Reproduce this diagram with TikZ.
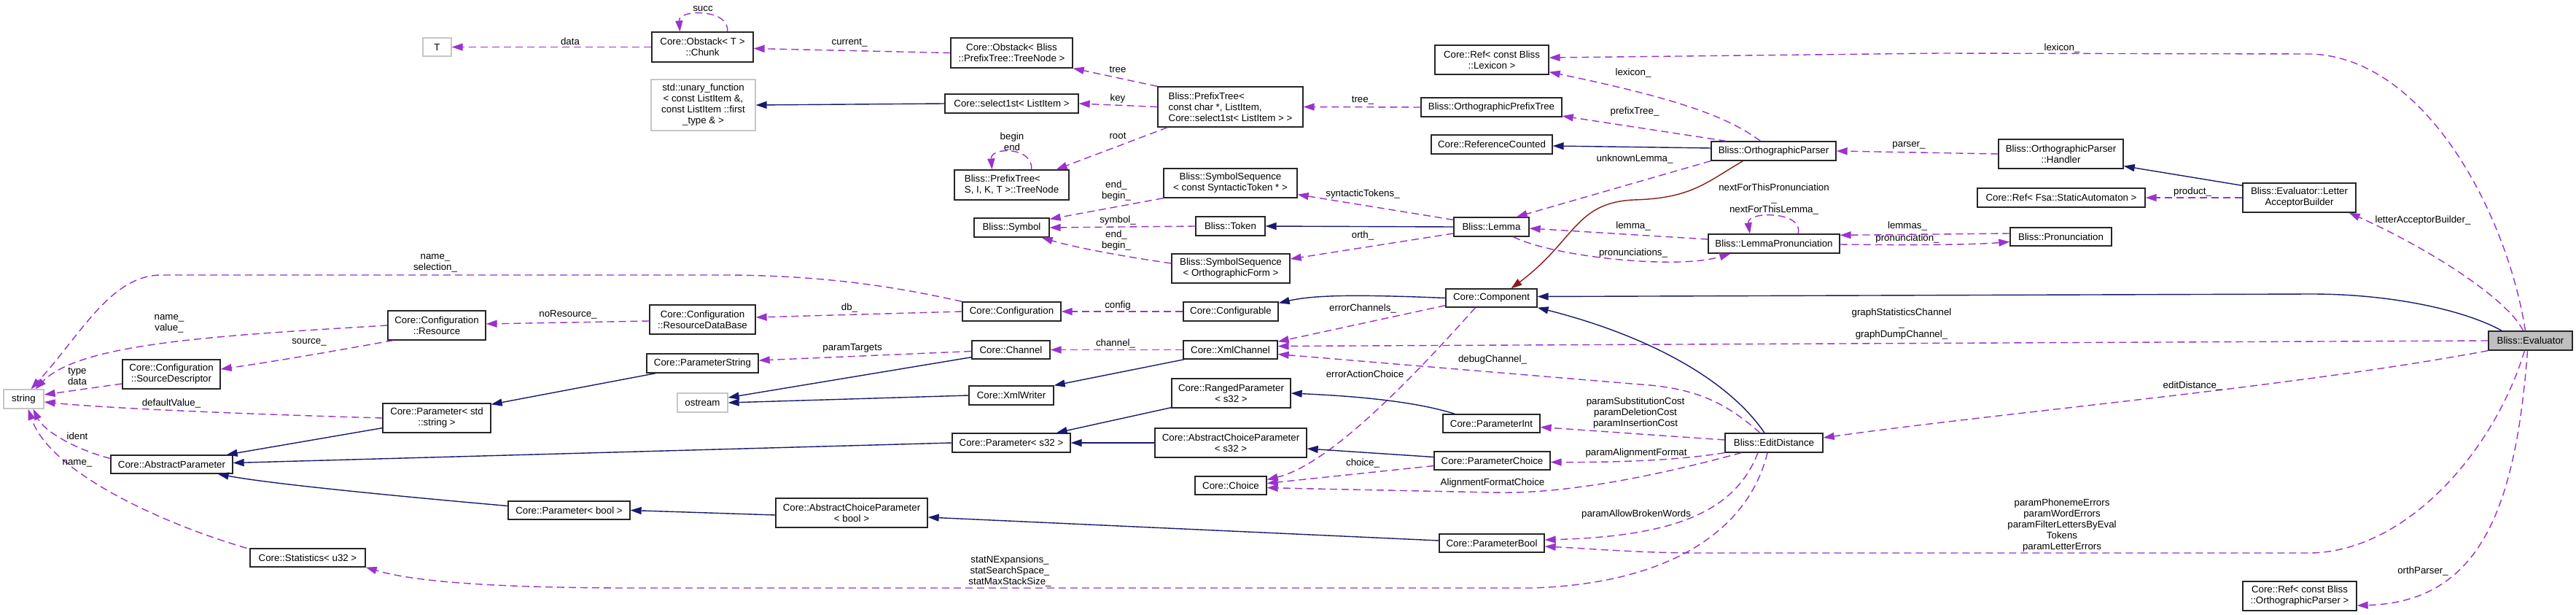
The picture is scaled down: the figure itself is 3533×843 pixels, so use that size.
\documentclass[tikz,border=0pt]{standalone}
\usepackage{fontspec}
\newfontfamily\dfam{Liberation Sans}
\newcommand{\dfont}{\dfam\fontsize{13.3}{15}\selectfont}
\usetikzlibrary{arrows.meta,calc}
\definecolor{dep}{HTML}{9A32CD}
\definecolor{inh}{HTML}{191970}
\definecolor{priv}{HTML}{8B1A1A}
\tikzset{
 cbox/.style={draw=black!85, line width=1.3pt, fill=white, inner sep=0pt, font=\dfont, align=center},
 extbox/.style={cbox, draw=gray!45},
 curbox/.style={cbox, fill=gray!50},
 lbox/.style={cbox, align=left},
 elab/.style={font=\dfont, align=center, inner sep=0pt},
 usedge/.style={draw=dep, line width=1.4pt, dash pattern=on 10pt off 6pt, -{Triangle[length=15pt,width=10pt]}},
 inhedge/.style={draw=inh, line width=1.4pt, -{Triangle[length=15pt,width=10pt]}},
 privedge/.style={draw=priv, line width=1.4pt, -{Triangle[length=15pt,width=10pt]}},
}
\newcommand{\bx}[7][cbox]{\node[#1,minimum width={(#5-#3)*1pt},minimum height={(#6-#4)*1pt}] (#2) at ({(#3+#5)/2},{(#4+#6)/2}) {#7};}
\begin{document}
\begin{tikzpicture}[x=1pt,y=-1pt]
\fill[white] (0,0) rectangle (3533,843);
\useasboundingbox (0,0) rectangle (3533,843);
% nodes
\bx[extbox]{T}{580}{52}{619}{77}{T}
\bx{chunk}{894}{44}{1033}{85}{Core::Obstack< T >\\::Chunk}
\bx{obtn}{1304}{52}{1471}{93}{Core::Obstack< Bliss\\::PrefixTree::TreeNode >}
\bx[extbox]{unary}{893}{109}{1036}{179}{std::unary\_function\\< const ListItem \&,\\const ListItem ::first\\\_type \& >}
\bx{sel}{1296}{129}{1479}{155}{Core::select1st< ListItem >}
\bx[lbox]{ptree}{1588}{119}{1787}{174}{Bliss::PrefixTree<\\ const char *, ListItem,\\ Core::select1st< ListItem > >}
\bx[lbox]{tnode}{1309}{233}{1466}{274}{Bliss::PrefixTree<\\ S, I, K, T >::TreeNode}
\bx{sst}{1596}{231}{1779}{271}{Bliss::SymbolSequence\\< const SyntacticToken * >}
\bx{sym}{1336}{299}{1439}{325}{Bliss::Symbol}
\bx{tok}{1640}{297}{1735}{323}{Bliss::Token}
\bx{sof}{1607}{348}{1769}{388}{Bliss::SymbolSequence\\< OrthographicForm >}
\bx{conf}{1320}{414}{1455}{440}{Core::Configuration}
\bx{cfgable}{1623}{414}{1753}{440}{Core::Configurable}
\bx{rdb}{891}{418}{1036}{458}{Core::Configuration\\::ResourceDataBase}
\bx{res}{532}{426}{666}{466}{Core::Configuration\\::Resource}
\bx{sd}{168}{493}{302}{533}{Core::Configuration\\::SourceDescriptor}
\bx[extbox]{string}{5}{534}{60}{560}{string}
\bx{pstr}{525}{553}{673}{593}{Core::Parameter< std\\::string >}
\bx{absp}{152}{624}{319}{649}{Core::AbstractParameter}
\bx{pbool}{697}{687}{864}{712}{Core::Parameter< bool >}
\bx{stats}{343}{752}{501}{777}{Core::Statistics< u32 >}
\bx{chan}{1333}{467}{1440}{492}{Core::Channel}
\bx{pstring}{887}{485}{1040}{511}{Core::ParameterString}
\bx{xmlc}{1623}{467}{1752}{492}{Core::XmlChannel}
\bx[extbox]{ostream}{929}{539}{998}{565}{ostream}
\bx{xmlw}{1329}{529}{1445}{555}{Core::XmlWriter}
\bx{rp}{1607}{519}{1770}{559}{Core::RangedParameter\\< s32 >}
\bx{ps32}{1306}{594}{1468}{620}{Core::Parameter< s32 >}
\bx{acps32}{1584}{587}{1792}{627}{Core::AbstractChoiceParameter\\< s32 >}
\bx{choice}{1639}{653}{1737}{678}{Core::Choice}
\bx{acpbool}{1064}{683}{1272}{723}{Core::AbstractChoiceParameter\\< bool >}
\bx{reflex}{1968}{62}{2124}{102}{Core::Ref< const Bliss\\::Lexicon >}
\bx{optree}{1949}{134}{2142}{160}{Bliss::OrthographicPrefixTree}
\bx{refc}{1963}{185}{2129}{211}{Core::ReferenceCounted}
\bx{oparser}{2347}{194}{2518}{220}{Bliss::OrthographicParser}
\bx{lemma}{1994}{298}{2097}{324}{Bliss::Lemma}
\bx{lp}{2343}{321}{2523}{347}{Bliss::LemmaPronunciation}
\bx{comp}{1983}{396}{2108}{421}{Core::Component}
\bx{pint}{1979}{568}{2112}{593}{Core::ParameterInt}
\bx{ed}{2366}{594}{2500}{620}{Bliss::EditDistance}
\bx{pchoice}{1967}{619}{2126}{644}{Core::ParameterChoice}
\bx{pboolp}{1974}{732}{2118}{757}{Core::ParameterBool}
\bx{handler}{2741}{191}{2912}{231}{Bliss::OrthographicParser\\::Handler}
\bx{refsa}{2712}{258}{2942}{284}{Core::Ref< Fsa::StaticAutomaton >}
\bx{lab}{3076}{251}{3231}{291}{Bliss::Evaluator::Letter\\AcceptorBuilder}
\bx{pron}{2757}{312}{2896}{337}{Bliss::Pronunciation}
\bx[curbox]{eval}{3413}{454}{3528}{480}{Bliss::Evaluator}
\bx{refop}{3076}{797}{3232}{837}{Core::Ref< const Bliss\\::OrthographicParser >}
% usage edges
\draw[usedge] (chunk.west) -- (T.east);
\draw[usedge] ($(chunk.north)+(34,0)$) .. controls (1002,12) and (930,12) .. ($(chunk.north)+(-31,0)$);
\draw[usedge] (obtn.west) -- ($(chunk.east)+(0,2)$);
\draw[usedge] (ptree.north west) -- (obtn.south east);
\draw[usedge] (ptree.west) -- (sel.east);
\draw[usedge] ($(ptree.south west)+(14,0)$) -- ($(tnode.north east)+(-18,0)$);
\draw[usedge] ($(tnode.north)+(27,0)$) .. controls (1418,201) and (1358,201) .. ($(tnode.north)+(-27,0)$);
\draw[usedge] (sst.south west) -- ($(sym.north east)+(0,2)$);
\draw[usedge] (tok.west) -- (sym.east);
\draw[usedge] ($(sof.west)+(0,-7)$) .. controls (1530,350) and (1470,338) .. ($(sym.south east)+(-11,0)$);
\draw[usedge] (cfgable.west) -- (conf.east);
\draw[usedge] (conf.west) -- ($(rdb.east)+(0,-3)$);
\draw[usedge] (conf.north west) .. controls (1250,398) and (1150,378) .. (1000,377) -- (218,377) .. controls (150,380) and (110,460) .. ($(string.north)+(10,0)$);
\draw[usedge] ($(rdb.west)+(0,2)$) -- ($(res.east)+(0,-2)$);
\draw[usedge] (res.west) .. controls (300,460) and (110,470) .. ($(string.north)+(16,0)$);
\draw[usedge] ($(res.south west)+(8,0)$) .. controls (480,477) and (400,492) .. ($(sd.east)+(0,-7)$);
\draw[usedge] ($(sd.west)+(0,13)$) -- ($(string.east)+(0,-6)$);
\draw[usedge] (pstr.west) .. controls (350,568) and (150,560) .. ($(string.east)+(0,4)$);
\draw[usedge] ($(absp.west)+(0,-8)$) .. controls (100,615) and (60,590) .. ($(string.south)+(13,0)$);
\draw[usedge] ($(stats.north west)+(-4,0)$) .. controls (230,720) and (70,650) .. ($(string.south)+(6,0)$);
\draw[usedge] ($(chan.west)+(0,2)$) -- ($(pstring.east)+(0,-4)$);
\draw[usedge] (xmlc.west) -- (chan.east);
\draw[usedge] ($(comp.south west)+(0,-3)$) -- ($(xmlc.north east)+(0,2)$);
\draw[usedge] (eval.west) -- ($(xmlc.east)+(0,-5)$);
\draw[usedge] ($(ed.north)+(-19,0)$) .. controls (2370,555) and (2330,532) .. (2250,527) -- ($(xmlc.east)+(0,6)$);
\draw[usedge] ($(comp.south)+(-22,0)$) .. controls (1900,560) and (1810,640) .. ($(choice.east)+(0,-8)$);
\draw[usedge] ($(pchoice.west)+(0,7)$) -- ($(choice.east)+(0,-3)$);
\draw[usedge] ($(ed.south west)+(23,0)$) .. controls (2280,650) and (2150,678) .. (2047,675) .. controls (1900,672) and (1800,670) .. ($(choice.east)+(0,3)$);
\draw[usedge] ($(ed.west)+(0,-4)$) -- ($(pint.east)+(0,5)$);
\draw[usedge] (ed.south west) .. controls (2320,628) and (2250,634) .. ($(pchoice.east)+(0,2)$);
\draw[usedge] ($(ed.south)+(-22,0)$) .. controls (2380,700) and (2300,735) .. ($(pboolp.east)+(0,-4.5)$);
\draw[usedge] ($(ed.south)+(-9,0)$) .. controls (2400,720) and (2300,800) .. (2100,806) -- (850,806) .. controls (650,805) and (560,795) .. (stats.south east);
\draw[usedge] ($(eval.south)+(-8,0)$) .. controls (3420,620) and (3300,755) .. (3170,758) -- (2330,758) .. controls (2250,758) and (2180,752) .. ($(pboolp.east)+(0,4.5)$);
\draw[usedge] (eval.south west) .. controls (3150,530) and (2750,565) .. ($(ed.east)+(0,-7)$);
\draw[usedge] ($(eval.south)+(-4,0)$) .. controls (3450,700) and (3400,825) .. ($(refop.east)+(0,13)$);
\draw[usedge] ($(eval.north)+(-7,0)$) .. controls (3440,300) and (3330,80) .. (3170,74) -- (2660,73) -- ($(reflex.east)+(0,-3)$);
\draw[usedge] ($(eval.north)+(-10,0)$) .. controls (3440,410) and (3330,340) .. ($(lab.south east)+(-10,0)$);
\draw[usedge] ($(oparser.north)+(-18,0)$) .. controls (2370,160) and (2300,135) .. ($(reflex.south east)+(0,-4)$);
\draw[usedge] ($(oparser.north west)+(21,0)$) -- ($(optree.east)+(0,12)$);
\draw[usedge] (optree.west) -- (ptree.east);
\draw[usedge] (oparser.south west) -- ($(lemma.north east)+(-18,0)$);
\draw[usedge] ($(lemma.north west)+(0,4)$) -- ($(sst.south east)+(0,-5)$);
\draw[usedge] ($(lemma.west)+(0,9)$) -- ($(sof.east)+(0,-13)$);
\draw[usedge] ($(lp.west)+(0,-6)$) -- ($(lemma.east)+(0,2)$);
\draw[usedge] ($(lemma.south)+(30,0)$) .. controls (2130,352) and (2300,370) .. ($(lp.south west)+(31,0)$);
\draw[usedge] ($(lp.north)+(33,0)$) .. controls (2475,289) and (2395,289) .. ($(lp.north)+(-33,0)$);
\draw[usedge] ($(pron.west)+(0,-4.5)$) -- ($(lp.north east)+(0,2)$);
\draw[usedge] ($(lp.east)+(0,1)$) .. controls (2600,336) and (2700,336) .. ($(pron.west)+(0,7)$);
\draw[usedge] (handler.west) -- (oparser.east);
\draw[usedge] (lab.west) -- (refsa.east);
% inheritance edges
\draw[inhedge] (sel.west) -- (unary.east);
\draw[inhedge] (lemma.west) -- (tok.east);
\draw[inhedge] ($(oparser.west)+(0,-4)$) -- ($(refc.east)+(0,2)$);
\draw[privedge] ($(oparser.south)+(-42,0)$) .. controls (2340,250) and (2320,272) .. (2240,274) .. controls (2160,278) and (2160,330) .. ($(comp.north)+(27,0)$);
\draw[inhedge] (comp.west) .. controls (1850,403) and (1800,405) .. ($(cfgable.north east)+(0,2)$);
\draw[inhedge] ($(xmlc.south west)+(2,0)$) -- (xmlw.north east);
\draw[inhedge] ($(chan.south west)+(0,-3)$) -- ($(ostream.east)+(0,-7)$);
\draw[inhedge] (xmlw.west) -- (ostream.east);
\draw[inhedge] ($(pstring.south west)+(13,0)$) -- ($(pstr.north east)+(0,2)$);
\draw[inhedge] ($(pstr.south west)+(0,-7)$) -- ($(absp.north east)+(-9,0)$);
\draw[inhedge] (ps32.west) -- ($(absp.east)+(0,-2)$);
\draw[inhedge] ($(pbool.west)+(0,-6)$) .. controls (600,685) and (380,665) .. ($(absp.south east)+(-21,0)$);
\draw[inhedge] ($(acpbool.west)+(0,3)$) -- (pbool.east);
\draw[inhedge] ($(rp.south west)+(0,-1)$) -- ($(ps32.north east)+(-20,0)$);
\draw[inhedge] (acps32.west) -- (ps32.east);
\draw[inhedge] ($(pint.north west)+(17,0)$) .. controls (1940,550) and (1860,543) .. (rp.east);
\draw[inhedge] ($(pchoice.west)+(0,-5)$) -- ($(acps32.east)+(0,8)$);
\draw[inhedge] ($(pboolp.west)+(0,-3.5)$) -- ($(acpbool.east)+(0,6)$);
\draw[inhedge] ($(ed.north)+(-13,0)$) .. controls (2370,520) and (2260,460) .. (comp.south east);
\draw[inhedge] ($(eval.north west)+(19,0)$) .. controls (3380,425) and (3280,403) .. (3170,403) -- ($(comp.east)+(0,-2)$);
\draw[inhedge] ($(lab.north west)+(0,4)$) -- ($(handler.south east)+(0,-4)$);
% labels
\node[elab] (l1) at (782,57) {data};
\node[elab] (l2) at (964,12) {succ};
\node[elab] (l3) at (1165,59) {current\_};
\node[elab] (l4) at (1533,95) {tree};
\node[elab] (l5) at (1533,135) {key};
\node[elab] (l6) at (1533,186) {root};
\node[elab] (l7) at (1388,194) {begin\\end};
\node[elab] (l8) at (1531,262) {end\_\\begin\_};
\node[elab] (l9) at (1533,302) {symbol\_};
\node[elab] (l10) at (1531,330) {end\_\\begin\_};
\node[elab] (l11) at (1533,419) {config};
\node[elab] (l12) at (1165,422) {db\_};
\node[elab] (l13) at (597,361) {name\_\\selection\_};
\node[elab] (l14) at (779,431) {noResource\_};
\node[elab] (l15) at (232,444) {name\_\\value\_};
\node[elab] (l16) at (424,469) {source\_};
\node[elab] (l17) at (106,516) {type\\data};
\node[elab] (l18) at (235,553) {defaultValue\_};
\node[elab] (l19) at (106,598) {ident};
\node[elab] (l20) at (106,635) {name\_};
\node[elab] (l21) at (1169,477) {paramTargets};
\node[elab] (l22) at (1530,471) {channel\_};
\node[elab] (l23) at (1385,783) {statNExpansions\_\\statSearchSpace\_\\statMaxStackSize\_};
\node[elab] (l24) at (2240,100) {lexicon\_};
\node[elab] (l25) at (1869,138) {tree\_};
\node[elab] (l26) at (2242,153) {prefixTree\_};
\node[elab] (l27) at (2618,199) {parser\_};
\node[elab] (l28) at (2242,218) {unknownLemma\_};
\node[elab] (l29) at (1869,266) {syntacticTokens\_};
\node[elab] (l30) at (2433,273) {nextForThisPronunciation\\\_\\nextForThisLemma\_};
\node[elab] (l31) at (1869,323) {orth\_};
\node[elab] (l32) at (2240,310) {lemma\_};
\node[elab] (l33) at (2240,347) {pronunciations\_};
\node[elab] (l34) at (2616,310) {lemmas\_};
\node[elab] (l35) at (2616,327) {pronunciation\_};
\node[elab] (l36) at (1869,423) {errorChannels\_};
\node[elab] (l37) at (2608,444) {graphStatisticsChannel\\\_\\graphDumpChannel\_};
\node[elab] (l38) at (2047,493) {debugChannel\_};
\node[elab] (l39) at (1872,513) {errorActionChoice};
\node[elab] (l40) at (2243,566) {paramSubstitutionCost\\paramDeletionCost\\paramInsertionCost};
\node[elab] (l41) at (2244,621) {paramAlignmentFormat};
\node[elab] (l42) at (1869,635) {choice\_};
\node[elab] (l43) at (2047,662) {AlignmentFormatChoice};
\node[elab] (l44) at (2244,705) {paramAllowBrokenWords};
\node[elab] (l45) at (2828,66) {lexicon\_};
\node[elab] (l46) at (3007,263) {product\_};
\node[elab] (l47) at (3323,302) {letterAcceptorBuilder\_};
\node[elab] (l48) at (3007,529) {editDistance\_};
\node[elab] (l49) at (2828,720) {paramPhonemeErrors\\paramWordErrors\\paramFilterLettersByEval\\Tokens\\paramLetterErrors};
\node[elab] (l50) at (3323,783) {orthParser\_};
\end{tikzpicture}
\end{document}
